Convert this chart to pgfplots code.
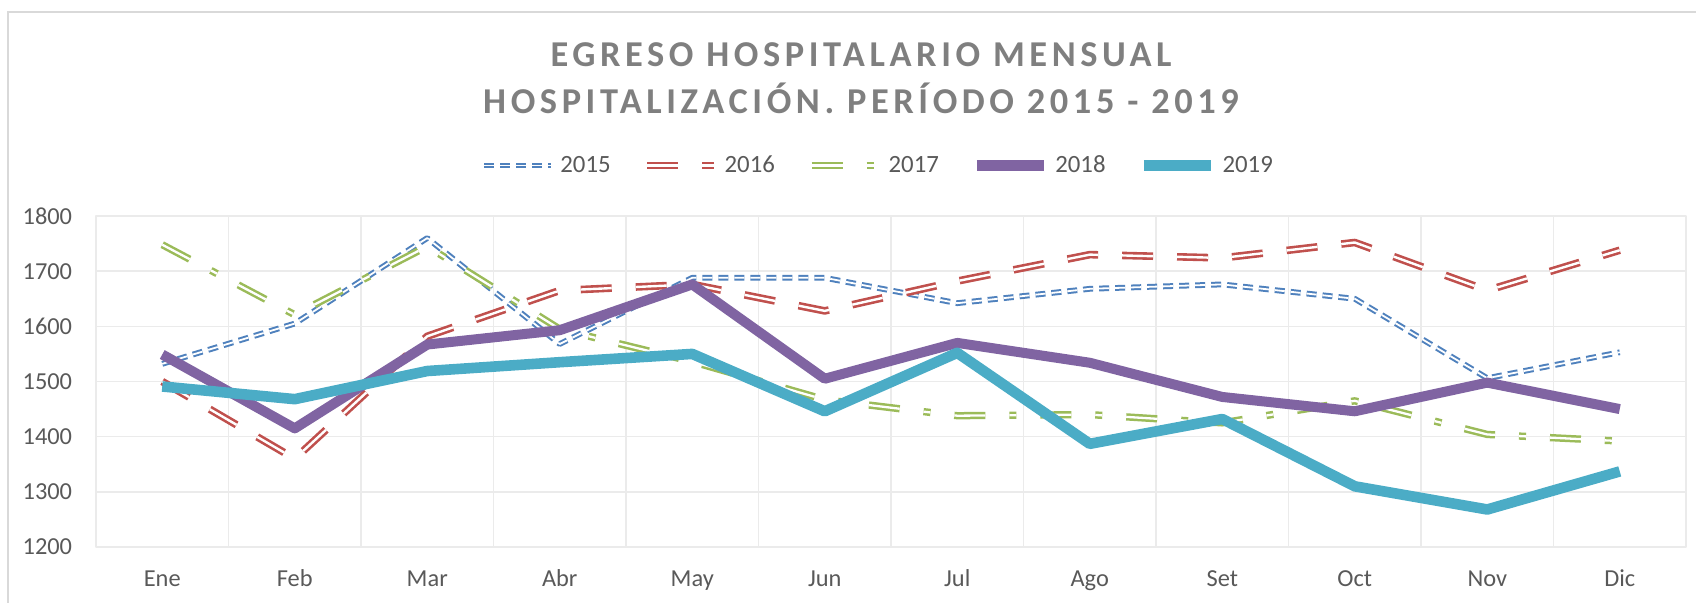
\documentclass[border=0pt]{standalone}
\usepackage{fontspec}
\setmainfont{Carlito}
\usepackage{pgfplots}
\pgfplotsset{compat=1.18}

\definecolor{c15}{HTML}{4F81BD}
\definecolor{c16}{HTML}{C0504D}
\definecolor{c17}{HTML}{9BBB59}
\definecolor{c18}{HTML}{8064A2}
\definecolor{c19}{HTML}{4BACC6}
\definecolor{txt}{HTML}{595959}
\definecolor{ttl}{HTML}{7F7F7F}
\definecolor{grd}{HTML}{EBEBEB}

\begin{document}
\begin{tikzpicture}
\path[use as bounding box] (0bp,0bp) rectangle (848bp,301.5bp);
\draw[color={rgb,255:red,217;green,217;blue,217}, line width=1bp] (4bp,0bp) -- (4bp,295.5bp) -- (848bp,295.5bp);

% title, two lines
\node[anchor=base, text=ttl, font=\fontsize{18.2bp}{20bp}\selectfont\bfseries\addfontfeatures{LetterSpace=12.6}]
    at (430.5bp,268bp) {EGRESO HOSPITALARIO MENSUAL};
\node[anchor=base, text=ttl, font=\fontsize{18.2bp}{20bp}\selectfont\bfseries\addfontfeatures{LetterSpace=12.6}]
    at (430.5bp,244.6bp) {HOSPITALIZACIÓN. PERÍODO 2015 - 2019};

\begin{axis}[
    at={(48bp,28bp)}, anchor=south west,
    width=795bp, height=165.5bp, scale only axis,
    xmin=-0.5, xmax=11.5,
    ymin=1200, ymax=1800,
    xtick={0,...,11},
    xticklabels={Ene,Feb,Mar,Abr,May,Jun,Jul,Ago,Set,Oct,Nov,Dic},
    minor xtick={-0.5,0.5,...,11.5},
    ytick={1200,1300,...,1800},
    xminorgrids=true, ymajorgrids=true, xmajorgrids=false,
    grid style={draw=grd, line width=0.75bp},
    minor grid style={draw=grd, line width=0.75bp},
    major tick length=0pt, minor tick length=0pt,
    axis line style={draw=grd, line width=0.75bp},
    /pgf/number format/assume math mode=true,
    /pgf/number format/1000 sep={},
    tick label style={font=\fontsize{12.2bp}{14bp}\selectfont, text=txt, inner sep=0pt},
    yticklabel style={anchor=east, xshift=-11.75bp},
    xticklabel style={anchor=base, yshift=-19.85bp},
    legend columns=5,
    legend style={at={(0.4912,1.1526)}, anchor=center, draw=none, fill=none,
        font=\fontsize{12.4bp}{14bp}\selectfont, text=txt,
        nodes={inner sep=0pt, anchor=west},
        /tikz/every odd column/.append style={column sep=3.2bp},
        /tikz/every even column/.append style={column sep=16.5bp}},
    legend image code/.code={\draw[#1] (0bp,0bp) -- (33.5bp,0bp);},
    line join=round,
]

\addplot[draw=c15, line width=1bp, double=white, double distance=0.9bp,
    dash pattern=on 5bp off 3bp] coordinates {
    (0,1532) (1,1605) (2,1760) (3,1568) (4,1688) (5,1688)
    (6,1642) (7,1668) (8,1676) (9,1650) (10,1506) (11,1553)
};
\addlegendentry{2015}

\addplot[draw=c16, line width=1.3bp, double=white, double distance=1.2bp,
    dash pattern=on 15.5bp off 12bp] coordinates {
    (0,1500) (1,1360) (2,1582) (3,1665) (4,1676) (5,1628)
    (6,1682) (7,1730) (8,1724) (9,1752) (10,1665) (11,1738)
};
\addlegendentry{2016}

\addplot[draw=c17, line width=1.25bp, double=white, double distance=1.15bp,
    dash pattern=on 15.5bp off 12bp on 3.5bp off 12bp] coordinates {
    (0,1748) (1,1621) (2,1745) (3,1595) (4,1536) (5,1467)
    (6,1438) (7,1440) (8,1425) (9,1465) (10,1404) (11,1392)
};
\addlegendentry{2017}

\addplot[draw=c18, line width=5bp] coordinates {
    (0,1549) (1,1415) (2,1567) (3,1593) (4,1676) (5,1505)
    (6,1570) (7,1534) (8,1472) (9,1446) (10,1498) (11,1450)
};
\addlegendentry{2018}

\addplot[draw=c19, line width=5.3bp] coordinates {
    (0,1491) (1,1468) (2,1519) (3,1535) (4,1550) (5,1446)
    (6,1552) (7,1387) (8,1432) (9,1310) (10,1268) (11,1337)
};
\addlegendentry{2019}

\end{axis}
\end{tikzpicture}
\end{document}
